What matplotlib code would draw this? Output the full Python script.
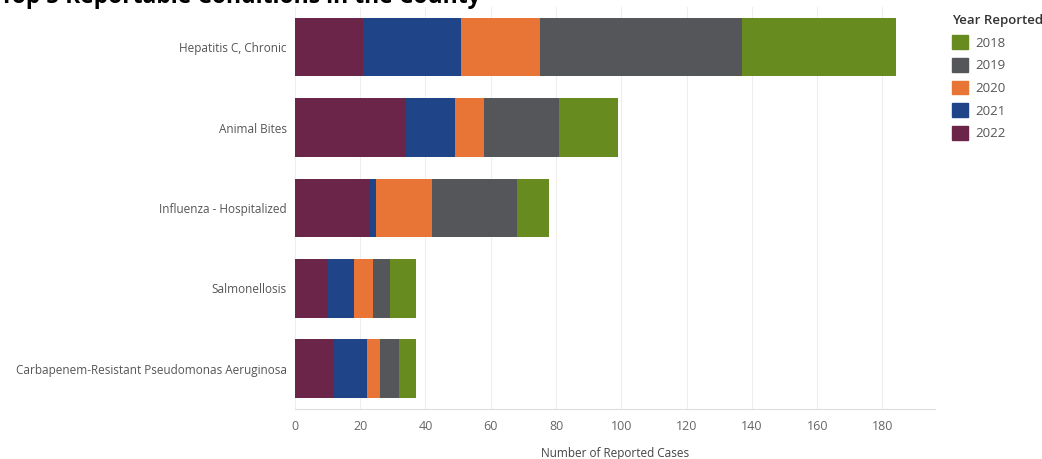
import matplotlib.pyplot as plt
from matplotlib.patches import Patch

# --- data ---
conditions = ['Hepatitis C, Chronic', 'Animal Bites', 'Influenza - Hospitalized',
              'Salmonellosis', 'Carbapenem-Resistant Pseudomonas Aeruginosa']
years = ['2022', '2021', '2020', '2019', '2018']
cases = {
    '2022': [21, 34, 23, 10, 12],
    '2021': [30, 15, 2, 8, 10],
    '2020': [24, 9, 17, 6, 4],
    '2019': [62, 23, 26, 5, 6],
    '2018': [47, 18, 10, 8, 5],
}
colors = {'2022': '#6b2549', '2021': '#1f4488', '2020': '#e87536',
          '2019': '#555659', '2018': '#678b1e'}

plt.rcParams['font.family'] = ['Open Sans', 'DejaVu Sans']

fig = plt.figure(figsize=(10.42, 4.59), dpi=100)
ax = fig.add_axes([0.283, 0.109, 0.614, 0.876])

ypos = list(range(len(conditions)))
left = [0] * len(conditions)
for yr in years:
    ax.barh(ypos, cases[yr], left=left, height=0.73, color=colors[yr], zorder=3)
    left = [a + b for a, b in zip(left, cases[yr])]

ax.set_yticks(ypos)
ax.set_yticklabels(conditions, fontsize=8.5, color='#555555')
ax.set_ylim(len(conditions) - 0.5, -0.5)
ax.set_xlim(0, 196)
ax.set_xticks(range(0, 181, 20))
ax.tick_params(axis='x', labelsize=9, colors='#666666', length=0, pad=8)
ax.tick_params(axis='y', length=0, pad=6)
ax.set_xlabel('Number of Reported Cases', fontsize=8.5, color='#444444', labelpad=10)
ax.grid(axis='x', color='#eeeeee', linewidth=0.8, zorder=0)

for s in ['top', 'right', 'left']:
    ax.spines[s].set_visible(False)
ax.spines['bottom'].set_color('#dddddd')

# legend
handles = [Patch(color=colors[y]) for y in ['2018', '2019', '2020', '2021', '2022']]
leg = fig.legend(handles, ['2018', '2019', '2020', '2021', '2022'],
                 title='Year Reported', loc='upper left', bbox_to_anchor=(0.902, 0.995),
                 frameon=False, fontsize=9.5, handlelength=1.25, handleheight=1.25,
                 handletextpad=0.5, labelspacing=0.62, alignment='left')
leg.get_title().set_fontsize(9.5)
leg.get_title().set_fontweight('semibold')
leg.get_title().set_color('#333333')
for t in leg.get_texts():
    t.set_color('#555555')

# title, cut off at the top of the image (as in the source screenshot)
fig.text(0.0, 1 - 3 / 459, 'Top 5 Reportable Conditions in the County',
         fontsize=16.5, fontweight='bold', va='baseline', ha='left')

fig.savefig('out.png', dpi=100)
